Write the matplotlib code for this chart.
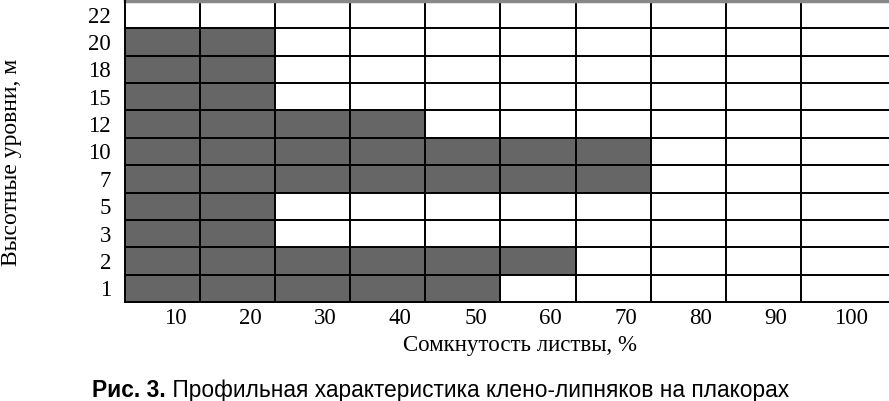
import matplotlib
matplotlib.use("Agg")
import matplotlib.pyplot as plt

levels = ['1', '2', '3', '5', '7', '10', '12', '15', '18', '20', '22']
closure = [50, 60, 20, 20, 70, 70, 40, 20, 20, 20, 0]
xtick_labels = ['10', '20', '30', '40', '50', '60', '70', '80', '90', '100']

W, H = 889, 401
fig = plt.figure(figsize=(W / 100, H / 100), dpi=100)
left, right, top, bottom = 125, 889, 1, 302
ax = fig.add_axes([left / W, 1 - bottom / H, (right - left) / W, (bottom - top) / H])

serif = 'Liberation Serif'
ypos = list(range(len(levels)))
ax.barh(ypos, closure, height=1.0, left=0, color='#666666', edgecolor='none', zorder=1)

colw = 10
ax.set_xlim(0, (right - left) / 75.1 * colw)
ax.set_ylim(-0.5, len(levels) - 0.5)

for i in range(1, 10):
    ax.axvline(i * colw, color='black', lw=1.4, zorder=2)
for j in range(len(levels)):
    ax.axhline(j + 0.5, color='black', lw=1.4, zorder=2)
ax.axhline(len(levels) - 0.5, color='#888888', lw=2.5, zorder=2, clip_on=False)

for s in ['top', 'right']:
    ax.spines[s].set_visible(False)
for s in ['left', 'bottom']:
    ax.spines[s].set_linewidth(1.4)
    ax.spines[s].set_color('black')

ax.set_xticks([i * colw + 6.67 for i in range(10)])
ax.set_xticklabels(xtick_labels, fontfamily=serif, fontsize=16.5)
ax.set_yticks(ypos)
ax.set_yticklabels(levels, fontfamily=serif, fontsize=16.5)
ax.tick_params(length=0)
ax.tick_params(axis='x', pad=4)
ax.tick_params(axis='y', pad=10)

fig.text(12 / W, 1 - 162 / H, 'Высотные уровни, м', rotation=90, ha='center', va='center',
         fontfamily=serif, fontsize=17)
fig.text(520 / W, 1 - 345 / H, 'Сомкнутость листвы, %', ha='center', va='center',
         fontfamily=serif, fontsize=16.5)

t1 = fig.text(92 / W, 1 - 397 / H, 'Рис. 3.', ha='left', va='baseline',
              fontfamily='Liberation Sans', fontweight='bold', fontsize=16.4)
ax.annotate(' Профильная характеристика клено-липняков на плакорах', xy=(1, 0), xycoords=t1,
            ha='left', va='bottom', fontfamily='Liberation Sans', fontsize=16.4,
            annotation_clip=False)

fig.savefig('out.png', dpi=100)
